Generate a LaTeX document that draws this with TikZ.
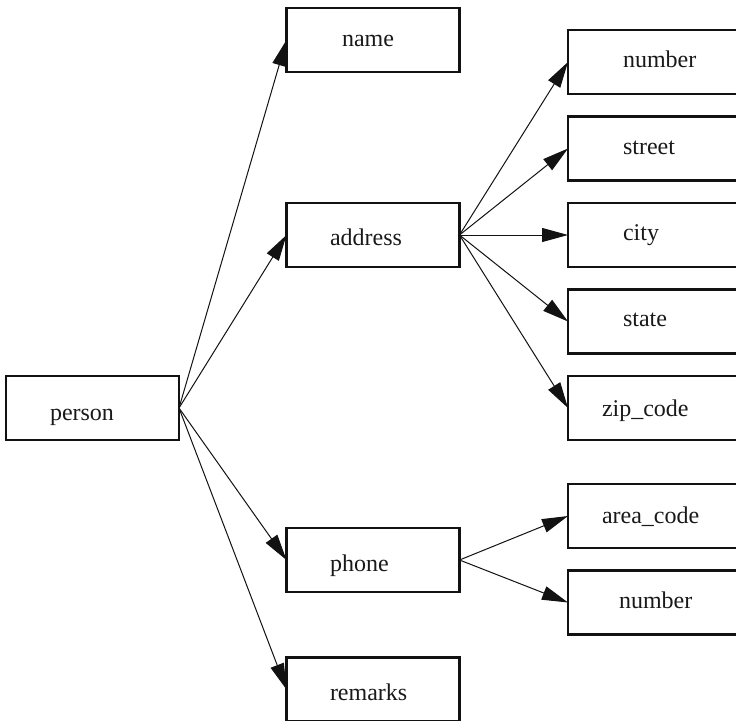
\documentclass[tikz,border=0pt]{standalone}
\usepackage{fontspec}
\setmainfont{Liberation Serif}
\usetikzlibrary{arrows.meta}

\tikzset{
  box/.style={draw=black!93, line width=2.2pt, minimum width=173pt,
    minimum height=64pt, inner sep=0pt, outer sep=0pt},
  txt/.style={anchor=base west, inner sep=0pt, outer sep=0pt,
    font=\fontsize{24}{28}\selectfont, text=black!90},
  link/.style={line width=1pt, draw=black!93,
    -{Triangle[length=26pt,width=14pt]}}
}

\begin{document}
\begin{tikzpicture}[x=1pt, y=-1pt]
  \useasboundingbox (0,0) rectangle (736,720);
  \clip (0,0) rectangle (736,720);

  % boxes
  \node[box] (person)  at (92.5,408)  {};
  \node[box] (name)    at (373,40)    {};
  \node[box] (address) at (373,235)   {};
  \node[box] (phone)   at (373,560)   {};
  \node[box] (remarks) at (373,689.5) {};
  \node[box] (number)  at (654.5,62)    {};
  \node[box] (street)  at (654.5,148.5) {};
  \node[box] (city)    at (654.5,235)   {};
  \node[box] (state)   at (654.5,321.5) {};
  \node[box] (zip)     at (654.5,408)   {};
  \node[box] (area)    at (654.5,516)   {};
  \node[box] (pnumber) at (654.5,602.5) {};

  % labels
  \node[txt] (tperson)  at (50,420)  {person};
  \node[txt] (tname)    at (342,46)  {name};
  \node[txt] (taddress) at (330,245) {address};
  \node[txt] (tphone)   at (330,571) {phone};
  \node[txt] (tremarks) at (330,700) {remarks};
  \node[txt] (tnumber)  at (623,67)  {number};
  \node[txt] (tstreet)  at (623,154) {street};
  \node[txt] (tcity)    at (623,240) {city};
  \node[txt] (tstate)   at (623,326) {state};
  \node[txt] (tzip)     at (602,416) {zip\_code};
  \node[txt] (tarea)    at (602,523) {area\_code};
  \node[txt] (tpnumber) at (619,608) {number};

  % connectors
  \foreach \t in {name,address,phone,remarks}
    \draw[link] (person.east) -- (\t.west);
  \foreach \t in {number,street,city,state,zip}
    \draw[link] (address.east) -- (\t.west);
  \foreach \t in {area,pnumber}
    \draw[link] (phone.east) -- (\t.west);
\end{tikzpicture}
\end{document}
